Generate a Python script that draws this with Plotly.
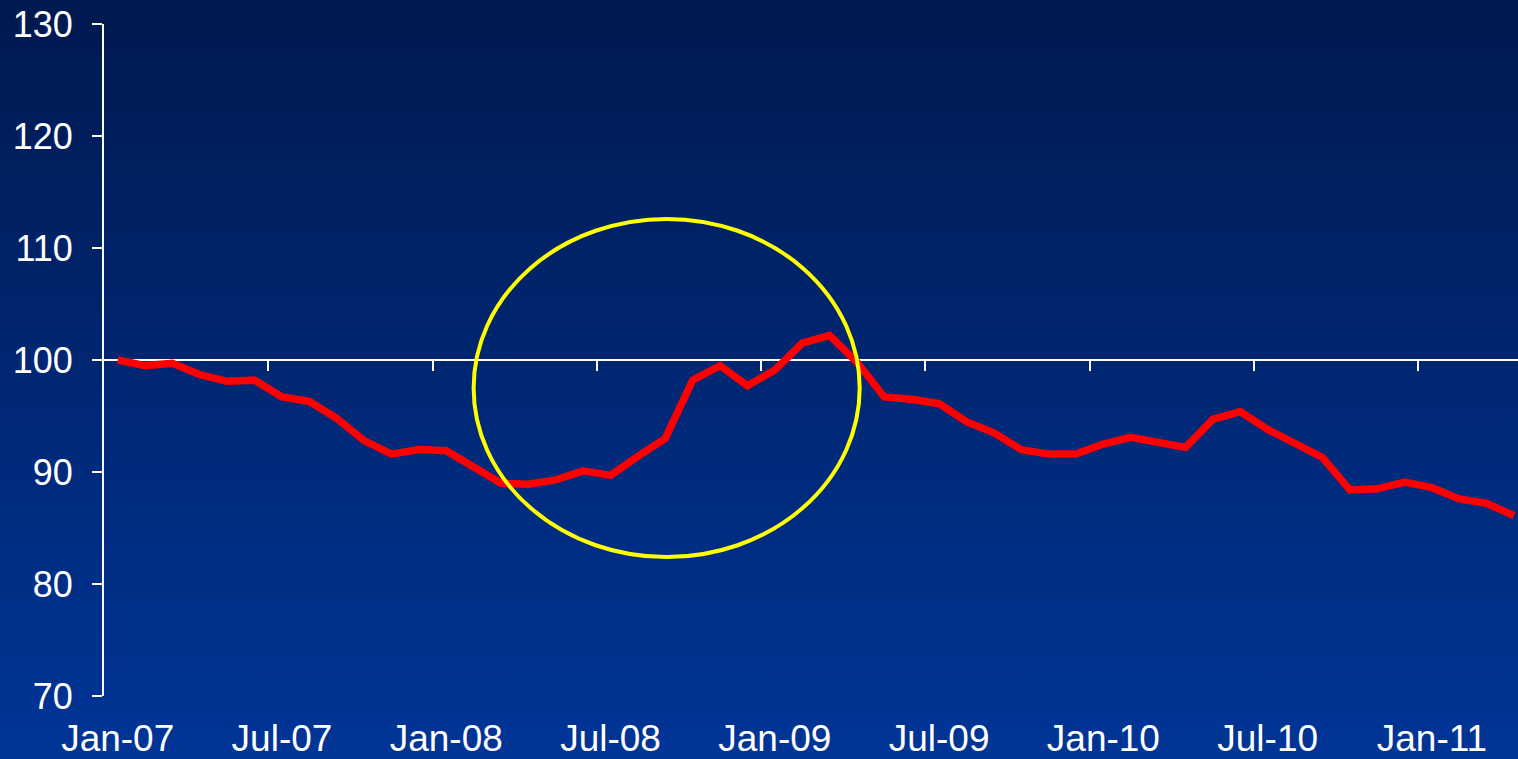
import base64
import plotly.graph_objects as go

# Monthly index, January 2007 = 100
months = [
    "Jan-07", "Feb-07", "Mar-07", "Apr-07", "May-07", "Jun-07",
    "Jul-07", "Aug-07", "Sep-07", "Oct-07", "Nov-07", "Dec-07",
    "Jan-08", "Feb-08", "Mar-08", "Apr-08", "May-08", "Jun-08",
    "Jul-08", "Aug-08", "Sep-08", "Oct-08", "Nov-08", "Dec-08",
    "Jan-09", "Feb-09", "Mar-09", "Apr-09", "May-09", "Jun-09",
    "Jul-09", "Aug-09", "Sep-09", "Oct-09", "Nov-09", "Dec-09",
    "Jan-10", "Feb-10", "Mar-10", "Apr-10", "May-10", "Jun-10",
    "Jul-10", "Aug-10", "Sep-10", "Oct-10", "Nov-10", "Dec-10",
    "Jan-11", "Feb-11", "Mar-11", "Apr-11",
]
index_values = [
    100.0, 99.5, 99.7, 98.7, 98.1, 98.2,
    96.7, 96.3, 94.8, 92.8, 91.6, 92.0,
    91.9, 90.5, 89.0, 88.9, 89.3, 90.1,
    89.7, 91.4, 93.0, 98.2, 99.5, 97.7,
    99.1, 101.5, 102.2, 99.8, 96.7, 96.5,
    96.1, 94.5, 93.5, 92.0, 91.6, 91.6,
    92.5, 93.1, 92.7, 92.2, 94.7, 95.4,
    93.8, 92.5, 91.3, 88.4, 88.5, 89.1,
    88.6, 87.6, 87.2, 86.1,
]
y_ticks = [70, 80, 90, 100, 110, 120, 130]
label_step = 6  # one label every six months

x_idx = list(range(len(months)))
label_pos = x_idx[::label_step]
label_text = months[::label_step]
# category boundaries every six months (tick marks sit between categories)
boundary_pos = [p - 0.5 for p in label_pos[1:]]

W, H = 1518, 759
ML, MR, MT, MB = 104, 0, 24, 63
plot_w, plot_h = W - ML - MR, H - MT - MB
x_range = [-0.5, -0.5 + plot_w / 27.38]

FONT = "Liberation Sans, Arial, sans-serif"

# vertical navy-to-blue backdrop
svg = (
    f'<svg xmlns="http://www.w3.org/2000/svg" width="{W}" height="{H}" '
    f'viewBox="0 0 {W} {H}" preserveAspectRatio="none">'
    '<defs><linearGradient id="g" x1="0" y1="0" x2="0" y2="1">'
    '<stop offset="0" stop-color="#00194f"/>'
    '<stop offset="1" stop-color="#003597"/>'
    '</linearGradient></defs>'
    f'<rect width="{W}" height="{H}" fill="url(#g)"/></svg>'
)
bg_src = "data:image/svg+xml;base64," + base64.b64encode(svg.encode()).decode()

fig = go.Figure()

fig.add_trace(go.Scatter(
    x=x_idx, y=index_values, mode="lines",
    line=dict(color="#ff0000", width=7.5),
    xaxis="x", yaxis="y", hoverinfo="skip", showlegend=False,
))
# invisible trace so the label axis is rendered
fig.add_trace(go.Scatter(
    x=[x_idx[0]], y=[index_values[0]], mode="markers",
    marker=dict(opacity=0), xaxis="x2", yaxis="y",
    hoverinfo="skip", showlegend=False,
))

fig.update_layout(
    width=W, height=H, autosize=False,
    margin=dict(l=ML, r=MR, t=MT, b=MB, pad=0),
    paper_bgcolor="#002670",
    plot_bgcolor="rgba(0,0,0,0)",
    showlegend=False,
    images=[dict(
        source=bg_src, xref="paper", yref="paper",
        x=-ML / plot_w, y=1 + MT / plot_h,
        sizex=W / plot_w, sizey=H / plot_h,
        xanchor="left", yanchor="top", sizing="stretch", layer="below",
    )],
    # crossing axis drawn at 100, with marks every six months
    xaxis=dict(
        range=x_range, anchor="free", position=0.5, side="bottom",
        showline=True, linecolor="white", linewidth=2,
        ticks="outside", ticklen=10, tickwidth=2, tickcolor="white",
        tickmode="array", tickvals=boundary_pos,
        showticklabels=False, showgrid=False, zeroline=False,
        layer="below traces",
    ),
    # month labels along the bottom
    xaxis2=dict(
        range=x_range, overlaying="x", anchor="y", side="bottom",
        showline=False, ticks="", showgrid=False, zeroline=False,
        tickmode="array", tickvals=label_pos, ticktext=label_text,
        tickfont=dict(family=FONT, size=37, color="white"),
        ticklabelstandoff=17,
    ),
    yaxis=dict(
        range=[70, 130], anchor="x",
        showline=True, linecolor="white", linewidth=2,
        ticks="outside", ticklen=10, tickwidth=2, tickcolor="white",
        tickmode="array", tickvals=y_ticks,
        tickfont=dict(family=FONT, size=36, color="white"),
        ticklabelstandoff=12,
        showgrid=False, zeroline=False,
    ),
    shapes=[dict(
        type="circle", xref="x", yref="y",
        x0=13.0, x1=27.1, y0=82.4, y1=112.6,
        line=dict(color="#ffff00", width=4),
        fillcolor="rgba(0,0,0,0)", layer="above",
    )],
)

fig.write_html("out.html")
